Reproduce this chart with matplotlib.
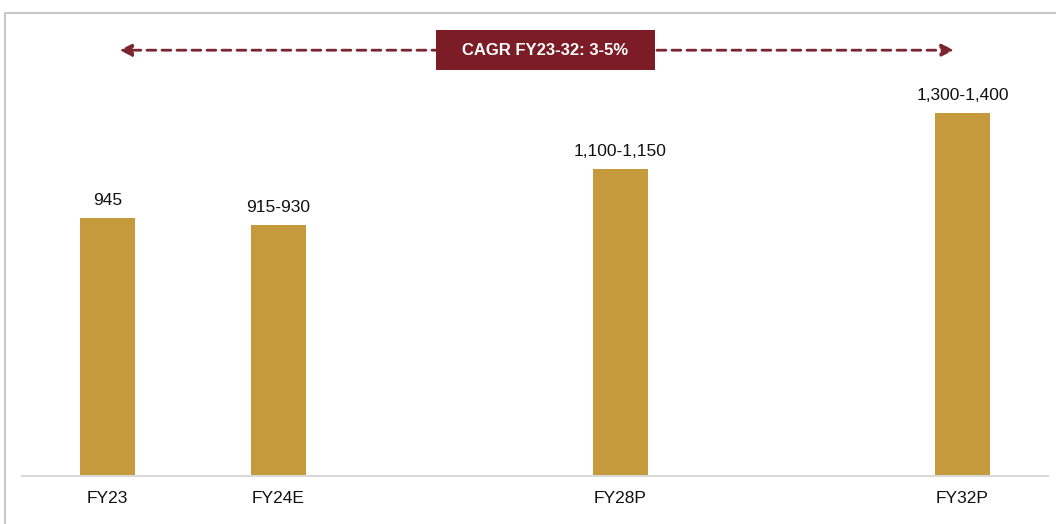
import matplotlib.pyplot as plt
from matplotlib.patches import Rectangle

categories = ['FY23', 'FY24E', 'FY28P', 'FY32P']
positions = [0, 1, 3, 5]
values = [945, 920, 1125, 1330]
labels = ['945', '915-930', '1,100-1,150', '1,300-1,400']
cagr_text = 'CAGR FY23-32: 3-5%'

plt.rcParams['font.family'] = ['Liberation Sans', 'DejaVu Sans']

fig = plt.figure(figsize=(10.56, 5.24), dpi=100)
ax = fig.add_axes([22 / 1056, 1 - 476 / 524, 1026 / 1056, 446 / 524])

gold = '#C49A3C'
maroon = '#7B1C26'

ax.bar(positions, values, width=0.32, color=gold)
for x, v, lab in zip(positions, values, labels):
    ax.annotate(lab, (x, v), xytext=(0, 7), textcoords='offset points',
                ha='center', va='bottom', fontsize=12.5, color='#111111')

ax.set_xlim(-0.5, 5.5)
ax.set_ylim(0, 1634)
ax.set_xticks(positions)
ax.set_xticklabels(categories, fontsize=12.5, color='#111111')
ax.tick_params(axis='x', length=0, pad=11)
ax.set_yticks([])
for side in ['left', 'right', 'top']:
    ax.spines[side].set_visible(False)
ax.spines['bottom'].set_color('#d9d9d9')
ax.spines['bottom'].set_linewidth(1.5)

# CAGR arrow with label box
arrow_y = 1560
ax.annotate('', xy=(0.07, arrow_y), xytext=(4.95, arrow_y),
            arrowprops=dict(arrowstyle='<|-|>', color='#7B2530', lw=2,
                            linestyle=(0, (3.2, 2.2)), mutation_scale=18,
                            shrinkA=0, shrinkB=0))
ax.add_patch(Rectangle((2.56 - 0.64, arrow_y - 73), 1.28, 146,
                       fc=maroon, ec='none', zorder=3))
ax.text(2.56, arrow_y, cagr_text, ha='center', va='center', fontsize=12,
        fontweight='bold', color='white', zorder=4)

# outer frame
fig.patches.append(Rectangle((4.5 / 1056, -0.05), 1.2, 1.05 - 13 / 524,
                             transform=fig.transFigure, fill=False,
                             ec='#c8c8c8', lw=1.5))

fig.savefig('out.png', dpi=100)
